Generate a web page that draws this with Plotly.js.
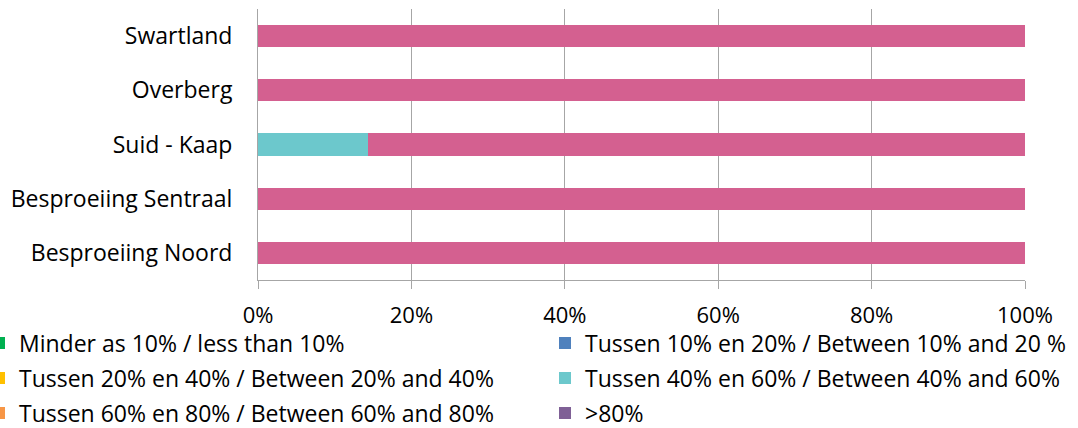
<!DOCTYPE html>
<html>
<head>
<meta charset="utf-8">
<script src="https://cdn.plot.ly/plotly-3.0.1.min.js"></script>
<style>html,body{margin:0;padding:0;background:#fff;}#chart{width:1078px;height:428px;}</style>
</head>
<body>
<div id="chart"></div>
<script>
const categories = ["Swartland", "Overberg", "Suid - Kaap", "Besproeiing Sentraal", "Besproeiing Noord"];
const seriesNames = [
  "Minder as 10% / less than 10%",
  "Tussen 10% en 20% / Between 10% and 20 %",
  "Tussen 20% en 40% / Between 20% and 40%",
  "Tussen 40% en 60% / Between 40% and 60%",
  "Tussen 60% en 80% / Between 60% and 80%",
  ">80%"
];
const lessThan10 = [0, 0, 0, 0, 0];
const between10and20 = [0, 0, 0, 0, 0];
const between20and40 = [0, 0, 0, 0, 0];
const between40and60 = [0, 0, 0.143, 0, 0];
const between60and80 = [0, 0, 0, 0, 0];
const above80 = [1, 1, 0.857, 1, 1];
const tickVals = [0, 0.2, 0.4, 0.6, 0.8, 1];
const tickText = ["0%", "20%", "40%", "60%", "80%", "100%"];

const seriesValues = [lessThan10, between10and20, between20and40, between40and60, between60and80, above80];
const legendColors = ["#00B050", "#4F81BD", "#FFC000", "#6CC8CC", "#F79646", "#7F6096"];
const barColors = ["#00B050", "#4F81BD", "#FFC000", "#6CC8CC", "#F79646", "#D46090"];

const FONT = "'Open Sans', sans-serif";
const FS = 23;
const W = 1078, H = 428, ML = 258, MR = 53, MT = 9, MB = 148;
const plotW = W - ML - MR;

const traces = [];
seriesValues.forEach((vals, i) => {
  traces.push({
    type: "bar", orientation: "h",
    y: categories, x: vals,
    name: seriesNames[i],
    marker: {color: barColors[i], line: {width: 0}},
    showlegend: false,
    hoverinfo: "skip"
  });
});

const layout = {
  width: W, height: H,
  margin: {l: ML, r: MR, t: MT, b: MB, autoexpand: false},
  paper_bgcolor: "#fff", plot_bgcolor: "#fff",
  barmode: "stack", bargap: 0.59,
  font: {family: FONT, size: FS, color: "#000"},
  xaxis: {
    range: [0, 1], tickvals: tickVals, ticktext: tickText,
    showgrid: true, gridcolor: "#A6A6A6", gridwidth: 1,
    showline: true, linecolor: "#A6A6A6", linewidth: 1,
    ticks: "outside", ticklen: 8, tickcolor: "#A6A6A6",
    zeroline: false, ticklabelstandoff: 8,
    tickfont: {family: FONT, size: 22, color: "#000"}
  },
  yaxis: {
    type: "category", categoryorder: "array", categoryarray: categories,
    autorange: "reversed",
    showline: true, linecolor: "#A6A6A6", linewidth: 1,
    showgrid: false, ticks: "", ticklabelstandoff: 20,
    tickfont: {family: FONT, size: FS, color: "#000"}
  },
  showlegend: true
};

// one legend per entry, laid out in two columns and three rows
const colLeft = [-21, 545];
const rowY = [343, 378, 413];
seriesNames.forEach((n, i) => {
  const key = i === 0 ? "legend" : "legend" + (i + 1);
  traces.push({
    type: "bar", orientation: "h",
    y: [null], x: [null],
    name: n,
    marker: {color: legendColors[i], line: {width: 0}},
    legend: key,
    showlegend: true,
    hoverinfo: "skip"
  });
  layout[key] = {
    orientation: "h", xref: "paper", yref: "container",
    x: (colLeft[i % 2] - ML) / plotW, xanchor: "left",
    y: 1 - rowY[Math.floor(i / 2)] / H, yanchor: "middle",
    font: {family: FONT, size: FS, color: "#000"},
    bgcolor: "rgba(0,0,0,0)", borderwidth: 0
  };
});

Plotly.newPlot("chart", traces, layout, {displayModeBar: false, staticPlot: true});
</script>
</body>
</html>
